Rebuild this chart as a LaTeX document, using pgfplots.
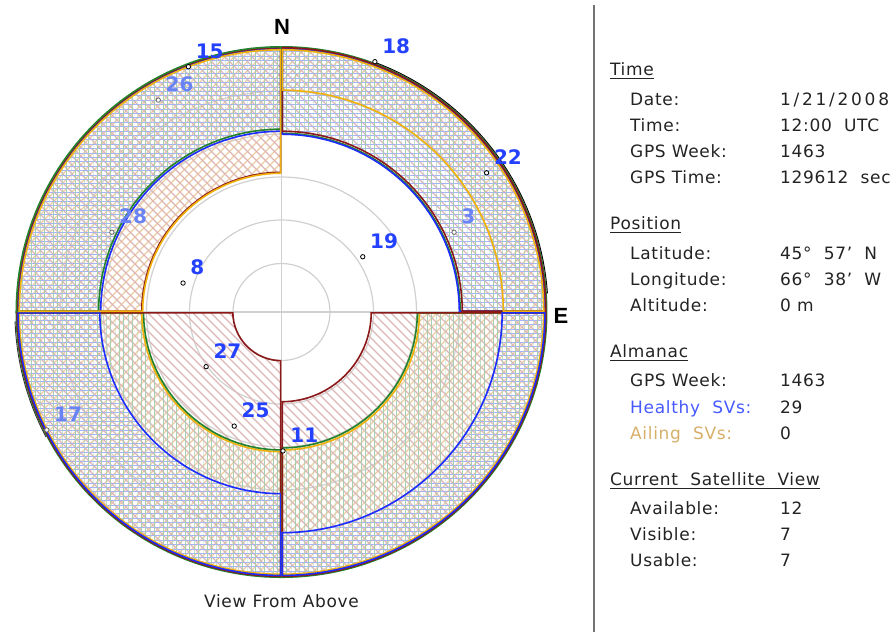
\documentclass[border=0pt]{standalone}
\usepackage{pgfplots}
\pgfplotsset{compat=1.18}
\usepackage{pgfplotstable}
\usepackage{fontspec}
\setmainfont{DejaVu Sans}
\newfontfamily\arialfont{Liberation Sans}
\usetikzlibrary{patterns}

% ---- colours -------------------------------------------------------------
\definecolor{mBlue}{RGB}{30,45,255}
\definecolor{mRed}{RGB}{140,25,25}
\definecolor{mGreen}{RGB}{35,130,45}
\definecolor{mOrange}{RGB}{240,178,10}
\definecolor{pBlue}{RGB}{168,178,250}
\definecolor{pRed}{RGB}{220,182,182}
\definecolor{pGreen}{RGB}{168,208,176}
\definecolor{pOrange}{RGB}{236,204,160}
\definecolor{svBright}{RGB}{35,65,255}
\definecolor{svDim}{RGB}{105,130,245}
\definecolor{txt}{RGB}{35,35,35}
\definecolor{healthy}{RGB}{70,90,255}
\definecolor{ailing}{RGB}{215,175,105}
\definecolor{gridgray}{RGB}{208,208,208}

% ---- hatch patterns for the four mask layers ----------------------------
\pgfdeclarepatternformonly{hlinesM}{\pgfpointorigin}{\pgfqpoint{100pt}{1pt}}{\pgfqpoint{100pt}{4.4pt}}{%
  \pgfsetlinewidth{0.75pt}%
  \pgfpathmoveto{\pgfqpoint{0pt}{0.5pt}}\pgfpathlineto{\pgfqpoint{100pt}{0.5pt}}\pgfusepath{stroke}}
\pgfdeclarepatternformonly{vlinesM}{\pgfpointorigin}{\pgfqpoint{1pt}{100pt}}{\pgfqpoint{4.4pt}{100pt}}{%
  \pgfsetlinewidth{0.75pt}%
  \pgfpathmoveto{\pgfqpoint{0.5pt}{0pt}}\pgfpathlineto{\pgfqpoint{0.5pt}{100pt}}\pgfusepath{stroke}}
\pgfdeclarepatternformonly{neM}{\pgfqpoint{-1pt}{-1pt}}{\pgfqpoint{10pt}{10pt}}{\pgfqpoint{9pt}{9pt}}{%
  \pgfsetlinewidth{1.4pt}%
  \pgfpathmoveto{\pgfqpoint{0pt}{0pt}}\pgfpathlineto{\pgfqpoint{9.1pt}{9.1pt}}\pgfusepath{stroke}}
\pgfdeclarepatternformonly{nwM}{\pgfqpoint{-1pt}{-1pt}}{\pgfqpoint{10pt}{10pt}}{\pgfqpoint{9pt}{9pt}}{%
  \pgfsetlinewidth{1.4pt}%
  \pgfpathmoveto{\pgfqpoint{0pt}{9pt}}\pgfpathlineto{\pgfqpoint{9.1pt}{-0.1pt}}\pgfusepath{stroke}}

% one degree of zenith distance
\def\u{2.95556pt}

% annular sector: start angle, end angle, mask elevation, outer radius, style
\newcommand\maskfill[5]{%
  \path[#5] ([shift={(#1:{(90-#3)*\u})}]axis cs:0,0)
    arc[start angle=#1,end angle=#2,radius={(90-#3)*\u}]
    -- ([shift={(#2:{#4*\u})}]axis cs:0,0)
    arc[start angle=#2,end angle=#1,radius={#4*\u}] -- cycle;}
% outline kept inside its own sector
\newcommand\maskedge[5]{%
  \begin{scope}
  \clip ([shift={(#1:{(90-#3)*\u})}]axis cs:0,0)
    arc[start angle=#1,end angle=#2,radius={(90-#3)*\u}]
    -- ([shift={(#2:{#4*\u})}]axis cs:0,0)
    arc[start angle=#2,end angle=#1,radius={#4*\u}] -- cycle;
  \draw[#5,line width=3.2pt] ([shift={(#1:{(90-#3)*\u})}]axis cs:0,0)
    arc[start angle=#1,end angle=#2,radius={(90-#3)*\u}]
    -- ([shift={(#2:{#4*\u})}]axis cs:0,0)
    arc[start angle=#2,end angle=#1,radius={#4*\u}] -- cycle;
  \end{scope}}

% hatching of one quadrant: start, end, then mask elevations for
% blue, dark red, green, orange
\newcommand\quadfill[6]{%
  \maskfill{#1}{#2}{#6}{89.0}{pattern=neM,pattern color=pOrange}%
  \maskfill{#1}{#2}{#4}{89.7}{pattern=nwM,pattern color=pRed}%
  \maskfill{#1}{#2}{#3}{89.4}{pattern=hlinesM,pattern color=pBlue}%
  \maskfill{#1}{#2}{#5}{90}{pattern=vlinesM,pattern color=pGreen}}

% elevation masks per quadrant (deg): blue, dark red, green, orange
\newcommand\maskNE{{0}{90}{30.1}{29.1}{29.8}{15.2}}
\newcommand\maskNW{{90}{180}{29.1}{43.0}{28.4}{43.3}}
\newcommand\maskSW{{180}{270}{28.8}{73.8}{43.6}{43.0}}
\newcommand\maskSE{{270}{360}{15.6}{59.9}{44.3}{43.6}}

% satellite positions (east, north) in degrees of zenith distance
\pgfplotstableread{
x y sv
-33.3 9.8 8
27.5 18.7 19
-25.5 -18.5 27
-16.0 -38.6 25
0.5 -47.0 11
31.6 84.7 18
69.4 47.1 22
-31.5 83.0 15
}\svclear
\pgfplotstableread{
x y sv
-41.7 71.7 26
-57.4 27.0 28
58.4 27.0 3
-79.4 -39.9 17
}\svmasked

\newcommand\svfont{\fontsize{20pt}{20pt}\selectfont\bfseries}
\newcommand\panelfont{\fontsize{17pt}{20pt}\selectfont\addfontfeature{LetterSpace=4}}

\begin{document}
\begin{tikzpicture}
\path (0pt,0pt) rectangle (895pt,-632pt);

\begin{axis}[at={(15.5pt,-578pt)}, anchor=south west,
  width=532pt, height=532pt, scale only axis,
  xmin=-90, xmax=90, ymin=-90, ymax=90,
  hide axis, clip=false]

% elevation grid
\pgfplotsextra{%
  \draw[gridgray, line width=1.2pt] (axis cs:-90,0) -- (axis cs:90,0)
    (axis cs:0,-90) -- (axis cs:0,90);
  \draw[gridgray, line width=1.2pt] (axis cs:0,0) circle[radius=16.41*\u];
  \draw[gridgray, line width=1.2pt] (axis cs:0,0) circle[radius=31.13*\u];
  \draw[gridgray, line width=1.2pt] (axis cs:0,0) circle[radius=45.68*\u];
  \draw[gridgray, line width=1.2pt] (axis cs:0,0) circle[radius=60.23*\u];
  \draw[gridgray, line width=1.2pt] (axis cs:0,0) circle[radius=74.77*\u];
}

% mask hatching
\pgfplotsextra{%
  \expandafter\quadfill\maskNE
  \expandafter\quadfill\maskNW
  \expandafter\quadfill\maskSW
  \expandafter\quadfill\maskSE
}

% satellites behind the masks
\addplot[only marks, mark=*, mark size=2.2pt,
  mark options={draw=black!60, fill=white, line width=0.8pt},
  point meta=explicit symbolic, nodes near coords,
  every node near coord/.append style={anchor=south west, inner sep=0pt,
    xshift=7pt, yshift=8pt, font=\svfont, text=svDim}]
  table[x=x, y=y, meta=sv] {\svmasked};

% satellites in clear sky
\addplot[only marks, mark=*, mark size=2.2pt,
  mark options={draw=black, fill=white, line width=0.8pt},
  point meta=explicit symbolic, nodes near coords,
  every node near coord/.append style={anchor=south west, inner sep=0pt,
    xshift=7pt, yshift=8pt, font=\svfont, text=svBright}]
  table[x=x, y=y, meta=sv] {\svclear};

% mask outlines, quadrant by quadrant
\pgfplotsextra{%
  % north-east
  \maskedge{0}{90}{29.8}{90}{mGreen}
  \maskedge{0}{90}{30.1}{89.4}{mBlue}
  \maskedge{0}{90}{29.1}{89.7}{mRed}
  \maskedge{0}{90}{15.2}{89.0}{mOrange}
  % south-west
  \maskedge{180}{270}{43.0}{89.0}{mOrange}
  \maskedge{180}{270}{43.6}{90}{mGreen}
  \maskedge{180}{270}{73.8}{89.7}{mRed}
  \maskedge{180}{270}{28.8}{89.4}{mBlue}
  % south-east
  \maskedge{270}{360}{43.6}{89.0}{mOrange}
  \maskedge{270}{360}{44.3}{90}{mGreen}
  \maskedge{270}{360}{59.9}{89.7}{mRed}
  \maskedge{270}{360}{15.6}{89.4}{mBlue}
  % north-west
  \maskedge{90}{180}{29.1}{89.4}{mBlue}
  \maskedge{90}{180}{43.0}{89.7}{mRed}
  \maskedge{90}{180}{28.4}{90}{mGreen}
  \maskedge{90}{180}{43.3}{89.0}{mOrange}
  % horizon traces
  \draw[black, line width=0.9pt] ([shift={(4:{90.2*\u})}]axis cs:0,0)
    arc[start angle=4, end angle=69, radius={90.2*\u}];
  \draw[black!80, line width=0.9pt] ([shift={(182:{90.2*\u})}]axis cs:0,0)
    arc[start angle=182, end angle=208, radius={90.2*\u}];
}
\end{axis}

% compass letters and caption
\node[font=\arialfont\bfseries\fontsize{22pt}{22pt}\selectfont, inner sep=0pt] at (282pt,-27pt) {N};
\node[font=\arialfont\bfseries\fontsize{22pt}{22pt}\selectfont, inner sep=0pt] at (561pt,-316pt) {E};
\node[font=\panelfont, text=txt, anchor=base, inner sep=0pt] at (281.5pt,-607pt) {View From Above};

% separator
\draw[black!55, line width=2pt] (594pt,-5pt) -- (594pt,-632pt);

% information panel
\begin{scope}[every node/.style={font=\panelfont, text=txt, anchor=base west, inner sep=0pt}]
\node (h1) at (610pt,-75pt) {Time};
\node (h2) at (610pt,-229pt) {Position};
\node (h3) at (610pt,-357pt) {Almanac};
\node (h4) at (610pt,-485pt) {Current\ \ Satellite\ \ View};
\foreach \h in {h1,h2,h3,h4}
  \draw[txt, line width=1pt] ([yshift=-3.5pt]\h.base west) -- ([yshift=-3.5pt]\h.base east);

\node at (630pt,-105pt) {Date:};       \node at (780pt,-105pt) {\addfontfeature{LetterSpace=16}1/21/2008};
\node at (630pt,-131pt) {Time:};       \node at (780pt,-131pt) {12:00\ \ UTC};
\node at (630pt,-157pt) {GPS Week:};   \node at (780pt,-157pt) {1463};
\node at (630pt,-183pt) {GPS Time:};   \node at (780pt,-183pt) {129612\ \ sec};

\node at (630pt,-259pt) {Latitude:};   \node at (780pt,-259pt) {45°\ \ 57'\ \ N};
\node at (630pt,-285pt) {Longitude:};  \node at (780pt,-285pt) {66°\ \ 38'\ \ W};
\node at (630pt,-311pt) {Altitude:};   \node at (780pt,-311pt) {0\ m};

\node at (630pt,-386pt) {GPS Week:};   \node at (780pt,-386pt) {1463};
\node[text=healthy] at (630pt,-413pt) {Healthy\ \ SVs:}; \node at (780pt,-413pt) {29};
\node[text=ailing] at (630pt,-439pt) {Ailing\ \ SVs:};   \node at (780pt,-439pt) {0};

\node at (630pt,-514pt) {Available:};  \node at (780pt,-514pt) {12};
\node at (630pt,-540pt) {Visible:};    \node at (780pt,-540pt) {7};
\node at (630pt,-566pt) {Usable:};     \node at (780pt,-566pt) {7};
\end{scope}
\end{tikzpicture}
\end{document}
